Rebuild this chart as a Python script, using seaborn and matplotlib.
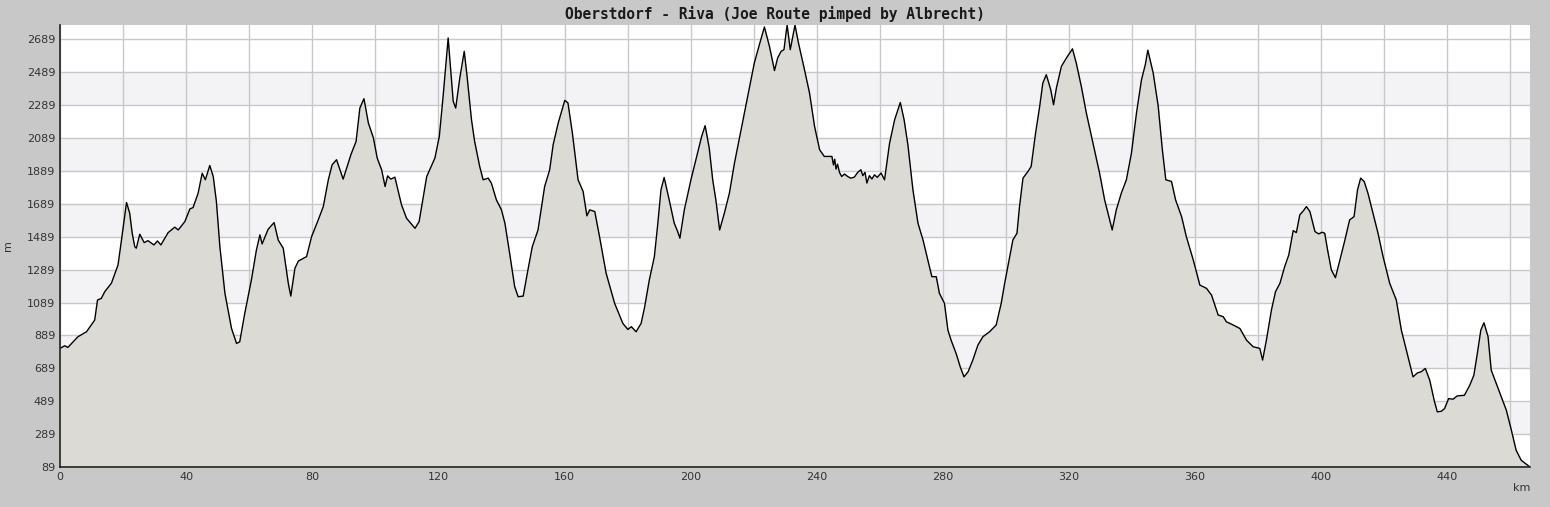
import numpy as np
import pandas as pd
import seaborn as sns
import matplotlib.pyplot as plt
from matplotlib.ticker import MultipleLocator, FuncFormatter

# elevation profile (distance in km, altitude in m)
km = [0, 1.5, 2.5, 5.7, 8.4, 11, 11.9, 13.1, 14.2, 16.3, 18.4, 19.5, 21.1, 22.1, 22.9,
      23.7, 24.2, 25.3, 26.7, 27.9, 29.8, 30.9, 32, 34.3, 36.4, 37.5, 39.6, 41.2, 42.2,
      43.8, 45.1, 46.1, 47.5, 48.6, 49.6, 50.7, 52.3, 54.4, 56, 57, 58.6, 60.7, 62.3,
      63.4, 64.1, 66, 67.9, 69.2, 70.8, 72.4, 73.2, 74.5, 75.6, 78.2, 79.8, 81.9, 83.5,
      85.1, 86.3, 87.7, 89.8, 91.4, 92.3, 93.9, 95.1, 96.4, 97.8, 99.4, 100.6, 102,
      103.1, 103.9, 104.9, 106.2, 108.3, 109.9, 112.6, 113.9, 116.3, 118.9, 120.3,
      121.5, 122.4, 123.1, 123.9, 124.7, 125.5, 126.8, 128.2, 129.1, 130.5, 131.5,
      133.1, 134.2, 135.8, 136.8, 138.4, 140, 141.1, 142.6, 144.2, 145.3, 146.9, 148.4,
      149.8, 151.6, 153.7, 155.3, 156.4, 158, 160.1, 161.1, 162.5, 164.3, 165.9, 167.1,
      168, 169.6, 171.1, 173.2, 175.9, 178.5, 180.1, 181.2, 182.7, 184.3, 185.4, 186.9,
      188.5, 189.5, 190.6, 191.6, 193.2, 194.8, 195.9, 196.6, 198, 200.1, 202.2, 203.5,
      204.6, 205.9, 207, 208, 209.2, 210.7, 212.3, 213.9, 216, 218.1, 220.2, 221.8,
      223.4, 225, 226.6, 227.6, 228.7, 229.6, 230.6, 231.6, 233.1, 234.2, 236.1, 237.7,
      239.3, 240.9, 242.4, 244.8, 245.3, 245.7, 246.1, 246.6, 247.2, 247.9, 248.8,
      249.8, 250.8, 251.9, 253, 254, 254.6, 255.3, 255.9, 256.7, 257.5, 258.3, 259.2,
      260.4, 261.5, 263.1, 264.7, 266.5, 267.7, 268.9, 270.5, 272.1, 273.7, 275.2,
      276.5, 277.9, 278.9, 280.5, 281.6, 282.6, 284.2, 285.5, 286.7, 288, 289.5, 291.1,
      292.7, 294.8, 296.9, 298.5, 299.6, 301.2, 302.2, 303.5, 304.3, 305.4, 307, 308,
      309.4, 310.7, 311.7, 312.8, 314.2, 315.1, 316, 317.6, 319.2, 321.1, 322.3, 323.9,
      325.5, 327.6, 329.7, 331.3, 332.9, 333.7, 335, 336.6, 338.2, 339.8, 341.4, 343,
      344.2, 345, 346.7, 348.3, 349.6, 350.7, 352.5, 353.8, 355.7, 357.2, 359.4, 361.5,
      363.6, 365.2, 367.3, 368.9, 369.9, 372.1, 374.2, 376.3, 378.4, 380.5, 381.4,
      382.6, 384.2, 385.5, 386.9, 388.4, 389.7, 391.1, 392.1, 393.2, 394.3, 395.3,
      396.4, 398, 399.2, 400.3, 401.1, 402, 403.2, 404.5, 405.9, 407.5, 409, 410.4,
      411.5, 412.5, 413.6, 414.8, 416.4, 418, 419.6, 421.7, 423.8, 425.4, 427.5, 429.1,
      430.5, 431.7, 433, 434.4, 435.8, 436.8, 438.1, 439.1, 440.4, 441.8, 443.1, 445.4,
      447.1, 448.4, 449.5, 450.6, 451.6, 452.9, 453.9, 455.5, 457.1, 458.7, 460.3,
      461.8, 463.4, 465.5, 466.2]
elev = [810, 826, 816, 881, 911, 982, 1104, 1114, 1155, 1206, 1317, 1469, 1697, 1632, 1510,
        1429, 1419, 1504, 1453, 1465, 1439, 1463, 1439, 1514, 1547, 1530, 1581, 1658, 1666,
        1753, 1875, 1835, 1922, 1855, 1703, 1429, 1145, 931, 840, 850, 1023, 1226, 1409,
        1500, 1445, 1534, 1575, 1469, 1419, 1206, 1128, 1297, 1341, 1368, 1490, 1591, 1672,
        1835, 1926, 1957, 1839, 1936, 1990, 2068, 2271, 2328, 2180, 2089, 1967, 1896,
        1794, 1859, 1839, 1851, 1683, 1601, 1540, 1581, 1855, 1967, 2099,
        2342, 2545, 2697, 2504, 2312, 2271, 2454, 2616, 2464, 2200, 2068,
        1916, 1835, 1845, 1815, 1713, 1652, 1571, 1388, 1185, 1124, 1128, 1287,
        1429, 1530, 1794, 1896, 2048, 2180, 2318, 2302, 2119, 1835, 1764, 1616,
        1652, 1642, 1490, 1267, 1084, 962, 925, 942, 911, 962, 1060, 1226,
        1368, 1551, 1774, 1849, 1713, 1571, 1520, 1480, 1652, 1835, 1997, 2099,
        2164, 2028, 1835, 1713, 1530, 1632, 1754, 1936, 2139, 2342, 2545, 2656,
        2764, 2646, 2499, 2576, 2616, 2626, 2776, 2626, 2776, 2667, 2505, 2363,
        2160, 2018, 1977, 1977, 1925, 1960, 1900, 1930, 1880, 1855, 1870,
        1855, 1845, 1851, 1880, 1896, 1860, 1880, 1815, 1860, 1840, 1865, 1850,
        1876, 1835, 2058, 2200, 2305, 2200, 2048, 1774, 1571, 1469, 1348,
        1246, 1246, 1145, 1084, 921, 860, 779, 698, 637, 668, 739, 830,
        881, 911, 952, 1084, 1206, 1368, 1469, 1510, 1672, 1845, 1886, 1916,
        2119, 2281, 2423, 2474, 2383, 2291, 2393, 2525, 2576, 2631, 2545, 2403,
        2241, 2058, 1875, 1713, 1591, 1530, 1652, 1754, 1835, 1997, 2241, 2444,
        2535, 2623, 2484, 2281, 2018, 1835, 1825, 1713, 1611, 1490, 1348, 1195,
        1175, 1134, 1013, 1003, 972, 952, 931, 860, 820, 810, 739,
        860, 1043, 1155, 1206, 1307, 1378, 1526, 1514, 1622, 1646, 1672,
        1642, 1520, 1506, 1516, 1510, 1409, 1287, 1240, 1348, 1469, 1591, 1611,
        1774, 1845, 1825, 1754, 1632, 1510, 1368, 1206, 1104, 921, 759, 637,
        661, 668, 688, 617, 495, 424, 428, 444, 505, 501, 521, 525,
        586, 647, 779, 921, 966, 881, 678, 597, 515, 434, 312,
        191, 130, 99, 89]

title = "Oberstdorf - Riva (Joe Route pimped by Albrecht)"
y_min, y_max = 89, 2776
x_max = 466.2

df = pd.DataFrame({"km": km, "elev": elev})

sns.set_style("white")
plt.rcParams['font.family'] = ['DejaVu Sans']

fig = plt.figure(figsize=(15.5, 5.07), dpi=100, facecolor='#c8c8c8')
ax = fig.add_axes([60 / 1550, 40 / 507, 1470 / 1550, 442 / 507])
ax.set_facecolor('white')

# alternating horizontal bands (289-489, 689-889, ... 2289-2489)
for lo in range(289, 2689, 400):
    ax.axhspan(lo, lo + 200, color='#f3f2f5', zorder=0, lw=0)

ax.fill_between(df["km"], df["elev"], y_min, color='#dbdad5', zorder=2, lw=0)
sns.lineplot(data=df, x="km", y="elev", ax=ax, color='black', lw=1, zorder=3)

ax.set_xlim(0, x_max)
ax.set_ylim(y_min, y_max)

ax.yaxis.set_major_locator(MultipleLocator(200, offset=89))
ax.yaxis.set_minor_locator(MultipleLocator(100, offset=89))
ax.xaxis.set_major_locator(MultipleLocator(20))
ax.xaxis.set_minor_locator(MultipleLocator(10))
ax.xaxis.set_major_formatter(FuncFormatter(lambda v, p: f"{v:.0f}" if round(v) % 40 == 0 else ""))
ax.yaxis.set_major_formatter(FuncFormatter(lambda v, p: f"{v:.0f}"))

ax.grid(True, which='major', color='#c8c8c8', lw=1, zorder=1)
ax.set_axisbelow(True)

ax.tick_params(which='both', direction='in', colors='#222222', labelcolor='#333333',
               labelsize=8)
ax.tick_params(which='major', length=5, width=1)
ax.tick_params(which='minor', length=3, width=1)

for s in ['top', 'right']:
    ax.spines[s].set_visible(False)
for s in ['left', 'bottom']:
    ax.spines[s].set_color('#222222')
    ax.spines[s].set_linewidth(1.2)
    ax.spines[s].set_zorder(5)

ax.set_xlabel("km", loc='right', fontsize=8, color='#333333', labelpad=1)
ax.set_ylabel("m", fontsize=8, color='#333333', labelpad=10)

fig.text(0.5, 1 - 14 / 507, title, ha='center', va='center', family='DejaVu Sans Mono',
         fontsize=10.5, fontweight='bold', color='#1a1a1a')

fig.savefig("out.png", dpi=100, facecolor=fig.get_facecolor())
